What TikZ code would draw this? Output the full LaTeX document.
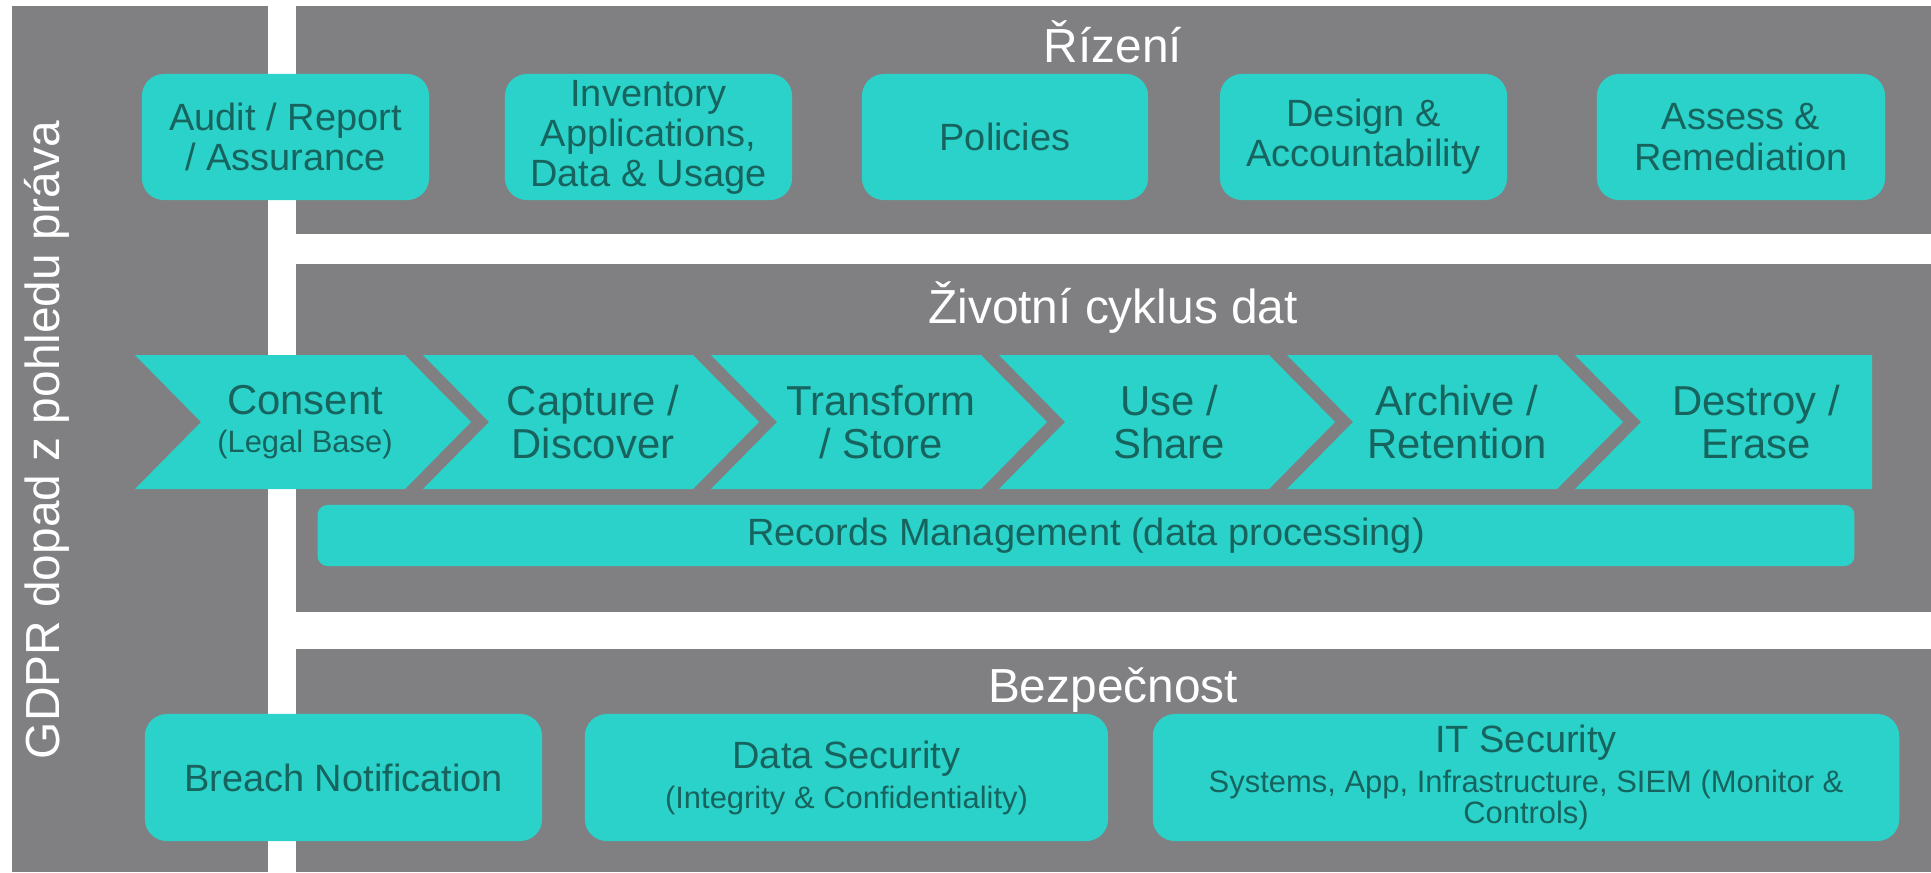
\documentclass[tikz,border=0pt]{standalone}
\usepackage{fontspec}
\setmainfont{Liberation Sans}

\definecolor{panelgray}{HTML}{808083}
\definecolor{boxteal}{HTML}{2BD2C9}
\definecolor{boxtext}{HTML}{17645F}

\newcommand{\smalltxt}{\fontsize{8.8}{9.6}\selectfont}

\tikzset{
  tealbox/.style={fill=boxteal, rounded corners=0.22cm, text=boxtext, align=center, inner sep=0pt,
    font=\fontsize{10.8}{11.4}\selectfont},
  paneltitle/.style={text=white, anchor=base, font=\fontsize{13.6}{15}\selectfont},
  chevtext/.style={text=boxtext, align=center, font=\fontsize{11.9}{12}\selectfont},
}

\begin{document}
\begin{tikzpicture}[x=0.01cm, y=-0.01cm]
				% page frame
				\useasboundingbox[fill=white] (0,0) rectangle (1931,872);
				
				% panels
				\fill[panelgray] (12,6)    rectangle (268,872);
				\fill[panelgray] (296,6)   rectangle (1931,234);
				\fill[panelgray] (296,264) rectangle (1931,612);
				\fill[panelgray] (296,649) rectangle (1931,872);
				
				% titles
				\node[paneltitle] (rizeni)     at (1113,62)  {Řízení};
				\node[paneltitle] (zivotni)    at (1113,323) {Životní cyklus dat};
				\node[paneltitle] (bezpecnost) at (1113,702) {Bezpečnost};
				\node[paneltitle, anchor=center, rotate=90] (gdpr) at (47,440) {GDPR dopad z pohledu práva};
				
				% rizeni
				\node[tealbox, minimum width=2.87cm, minimum height=1.26cm] (audit)     at (285.5,137)  {Audit / Report\\/ Assurance};
				\node[tealbox, minimum width=2.87cm, minimum height=1.26cm] (inventory) at (648.5,137)  {Inventory\\Applications,\\Data \& Usage};
				\node[tealbox, minimum width=2.86cm, minimum height=1.26cm] (policies)  at (1005,137)   {Policies};
				\node[tealbox, minimum width=2.87cm, minimum height=1.26cm] (design)    at (1363.5,137) {Design \&\\Accountability};
				\node[tealbox, minimum width=2.88cm, minimum height=1.26cm] (assess)    at (1741,137)   {Assess \&\\Remediation};
				
				% zivotni cyklus
				\foreach \i in {0,...,4}
					\fill[boxteal] ({135+288*\i},355) -- ++(270,0) -- ++(66,67) -- ++(-66,67) -- ++(-270,0) -- ++(66,-67) -- cycle;
				\fill[boxteal] (1575,355) -- (1872,355) -- (1872,489) -- (1575,489) -- (1641,422) -- cycle;
				
				\node[chevtext] (consent)   at (305,422)  {Consent\\[-1pt]{\smalltxt (Legal Base)}};
				\node[chevtext] (capture)   at (593,422)  {Capture /\\Discover};
				\node[chevtext] (transform) at (881,422)  {Transform\\/ Store};
				\node[chevtext] (use)       at (1169,422) {Use /\\Share};
				\node[chevtext] (archive)   at (1457,422) {Archive /\\Retention};
				\node[chevtext] (destroy)   at (1756,422) {Destroy /\\Erase};
				
				\node[tealbox, rounded corners=0.1cm, minimum width=15.36cm, minimum height=0.61cm] (records) at (1086,535.5) {Records Management (data processing)};
				
				% bezpecnost
				\node[tealbox, minimum width=3.97cm, minimum height=1.27cm] (breach)  at (343.5,777.5) {Breach Notification};
				\node[tealbox, minimum width=5.23cm, minimum height=1.27cm] (datasec) at (846.5,777.5) {Data Security\\{\smalltxt (Integrity \& Confidentiality)}};
				\node[tealbox, minimum width=7.46cm, minimum height=1.27cm] (itsec)   at (1526,777.5)  {IT Security\\{\smalltxt Systems, App, Infrastructure, SIEM (Monitor \&}\\[-2.4pt]{\smalltxt Controls)}};
\end{tikzpicture}
\end{document}
